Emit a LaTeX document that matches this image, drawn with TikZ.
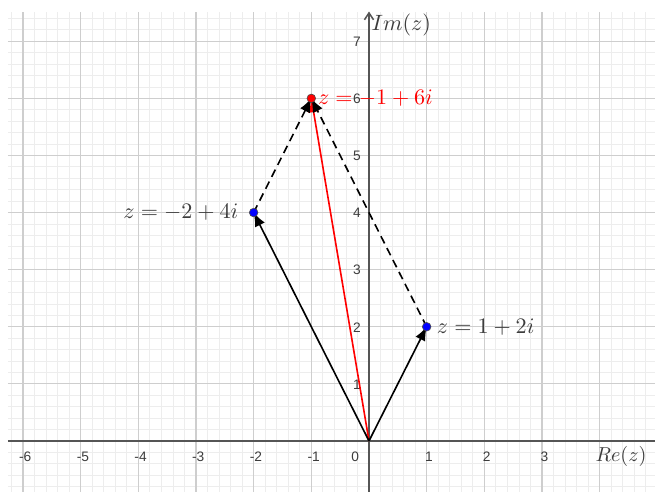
\documentclass[tikz,border=0pt]{standalone}
\usepackage{fontspec}
\newfontfamily\tickfont{Liberation Sans}
\usetikzlibrary{arrows.meta}
\definecolor{majgrid}{RGB}{206,206,206}
\definecolor{mingrid}{RGB}{237,237,237}
\definecolor{axisgray}{RGB}{85,85,85}
\definecolor{labgray}{RGB}{60,60,60}
\definecolor{ptblue}{RGB}{0,0,255}
\definecolor{ptred}{RGB}{255,0,0}
\tikzset{
  minorgrid/.style={mingrid, line width=0.4pt},
  majorgrid/.style={majgrid, line width=0.6pt},
  axisline/.style={axisgray, line width=0.75pt},
  ticklab/.style={font=\tickfont\fontsize{6.8}{7}\selectfont, text=labgray, inner sep=0pt},
  vec/.style={black, line width=0.8pt, -{Latex[length=2.4mm,width=1.9mm]}},
  redvec/.style={ptred, line width=0.8pt, -{Latex[length=2.4mm,width=1.9mm]}},
  dashvec/.style={black, line width=0.8pt, dash pattern=on 4pt off 2.6pt, -{Latex[length=2.4mm,width=1.9mm]}},
  dotpt/.style={circle, draw=black!70, line width=0.3pt, inner sep=0pt, minimum size=1.5mm},
  ptlab/.style={font=\fontsize{10.95}{13}\selectfont, text=labgray, inner sep=0pt},
}
\begin{document}
\begin{tikzpicture}[x=1.003cm,y=0.993cm]
\useasboundingbox (-6.398,-0.893) rectangle (4.959,7.723);
% grid
\draw[minorgrid, step=0.2] (-6.26,-0.893) grid (4.959,7.513);
\draw[majorgrid, step=1] (-6.26,-0.893) grid (4.959,7.513);
% axes
\coordinate (xl) at (-6.26,0);
\coordinate (xr) at (4.959,0);
\coordinate (yb) at (0,-0.893);
\coordinate (yt) at (0,7.52);
\draw[axisline] (xl) -- (xr);
\draw[axisline, -{Straight Barb[length=1.2mm,width=1.6mm]}] (yb) -- (yt);
% tick labels
\foreach \k in {-6,-5,-4,-3,-2,-1,1,2,3}
  \node[ticklab] (tx\k) at (\k+0.04,-0.28) {\k};
\node[ticklab] (t0) at (-0.24,-0.28) {0};
\foreach \k in {1,...,7}
  \node[ticklab] (ty\k) at (-0.21,\k-0.01) {\k};
\node[ptlab, anchor=west] (im) at (0.04,7.28) {$Im(z)$};
\node[text=labgray, inner sep=0pt] (re) at (4.37,-0.27) {$Re(z)$};
% points
\coordinate (O) at (0,0);
\coordinate (A) at (1,2);
\coordinate (B) at (-2,4);
\coordinate (C) at (-1,6);
% vectors
\draw[redvec] (O) -- (C);
\draw[vec] (O) -- (A);
\draw[vec] (O) -- (B);
\draw[dashvec] (B) -- (C);
\draw[dashvec] (A) -- (C);
% dots
\node[dotpt, fill=ptblue] (dA) at (A) {};
\node[dotpt, fill=ptblue] (dB) at (B) {};
\node[dotpt, fill=ptred] (dC) at (C) {};
% labels
\node[ptlab, anchor=west] (lA) at (1.17,2.0) {$z = 1 + 2i$};
\node[ptlab, anchor=east] (lB) at (-2.26,4.0) {$z = -2 + 4i$};
\node[ptlab, text=ptred, anchor=west] (lC) at (-0.89,6.0) {$z = -1 + 6i$};
\end{tikzpicture}
\end{document}
